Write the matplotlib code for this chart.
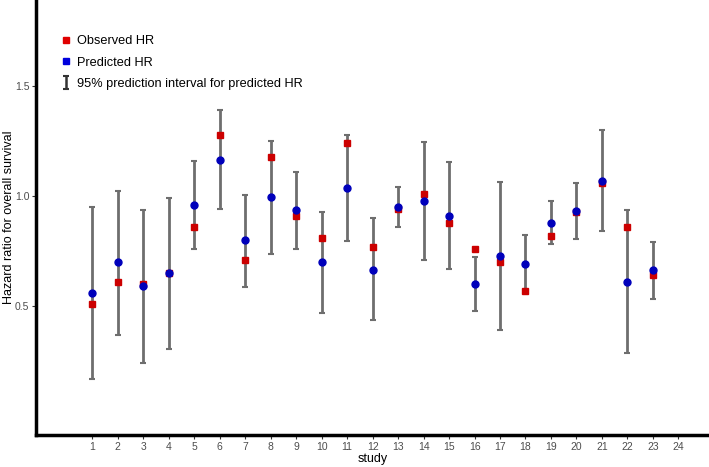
import matplotlib
matplotlib.use("Agg")
import matplotlib.pyplot as plt
from matplotlib.lines import Line2D

plt.rcParams['font.family'] = ['Liberation Sans', 'DejaVu Sans']

study = list(range(1, 24))
observed = [0.51, 0.61, 0.60, 0.65, 0.86, 1.28, 0.71, 1.18, 0.91, 0.81, 1.24, 0.77,
            0.94, 1.01, 0.88, 0.76, 0.70, 0.57, 0.82, 0.93, 1.06, 0.86, 0.64]
predicted = [0.56, 0.70, 0.59, 0.65, 0.96, 1.165, 0.80, 0.995, 0.935, 0.70, 1.035, 0.665,
             0.95, 0.977, 0.91, 0.60, 0.726, 0.692, 0.88, 0.932, 1.071, 0.61, 0.664]
pi_low = [0.17, 0.37, 0.242, 0.307, 0.762, 0.94, 0.589, 0.738, 0.759, 0.47, 0.794, 0.435,
          0.862, 0.709, 0.668, 0.476, 0.39, 0.565, 0.783, 0.806, 0.841, 0.289, 0.533]
pi_high = [0.95, 1.025, 0.935, 0.99, 1.16, 1.39, 1.006, 1.253, 1.11, 0.927, 1.28, 0.90,
           1.042, 1.245, 1.155, 0.724, 1.064, 0.823, 0.979, 1.062, 1.30, 0.935, 0.792]
xticks = list(range(1, 25))
yticks = [0.5, 1.0, 1.5]

fig = plt.figure(figsize=(7.09, 4.67), dpi=100)
ax = fig.add_axes([0.051, 0.069, 0.949, 0.931])

err_lo = [p - l for p, l in zip(predicted, pi_low)]
err_hi = [h - p for p, h in zip(predicted, pi_high)]
ax.errorbar(study, predicted, yerr=[err_lo, err_hi], fmt='none',
            ecolor='#6e6e6e', elinewidth=2, capsize=2.4, capthick=1.5, zorder=1)
ax.plot(study, observed, 's', color='#cc0000', markersize=4, zorder=2)
ax.plot(study, predicted, 'o', color='#0000bb', markersize=5, zorder=3)

# dark errorbar icon for the legend only
eb_leg = ax.errorbar([float('nan')], [float('nan')], yerr=[[0.1], [0.1]], fmt='none',
                     ecolor='#333333', elinewidth=1.8, capsize=2.4, capthick=1.5)

ax.set_xlim(-1.2, 25.2)
ax.set_ylim(-0.085, 1.892)
ax.set_xticks(xticks)
ax.set_xticklabels([str(t) for t in xticks])
ax.set_yticks(yticks)
ax.set_yticklabels(['0.5', '1.0', '1.5'])
ax.tick_params(labelsize=7.5, labelcolor='#4d4d4d', color='#333333', length=3, width=0.8, pad=2)

for s in ['top', 'right']:
    ax.spines[s].set_visible(False)
for s in ['left', 'bottom']:
    ax.spines[s].set_linewidth(2.5)
    ax.spines[s].set_color('black')

ax.set_xlabel('study', fontsize=9, labelpad=1)
fig.text(0.012, 0.534, 'Hazard ratio for overall survival', fontsize=9,
         rotation=90, ha='center', va='center')

handles = [Line2D([], [], marker='s', color='#e00000', linestyle='none', markersize=4),
           Line2D([], [], marker='s', color='#0000dd', linestyle='none', markersize=4),
           eb_leg]
labels = ['Observed HR', 'Predicted HR', '95% prediction interval for predicted HR']
leg = ax.legend(handles, labels, loc='upper left', bbox_to_anchor=(0.022, 0.945),
                frameon=False, fontsize=9.2, handlelength=0.6, handletextpad=0.5,
                labelspacing=0.72)

fig.savefig('out.png', dpi=100)
